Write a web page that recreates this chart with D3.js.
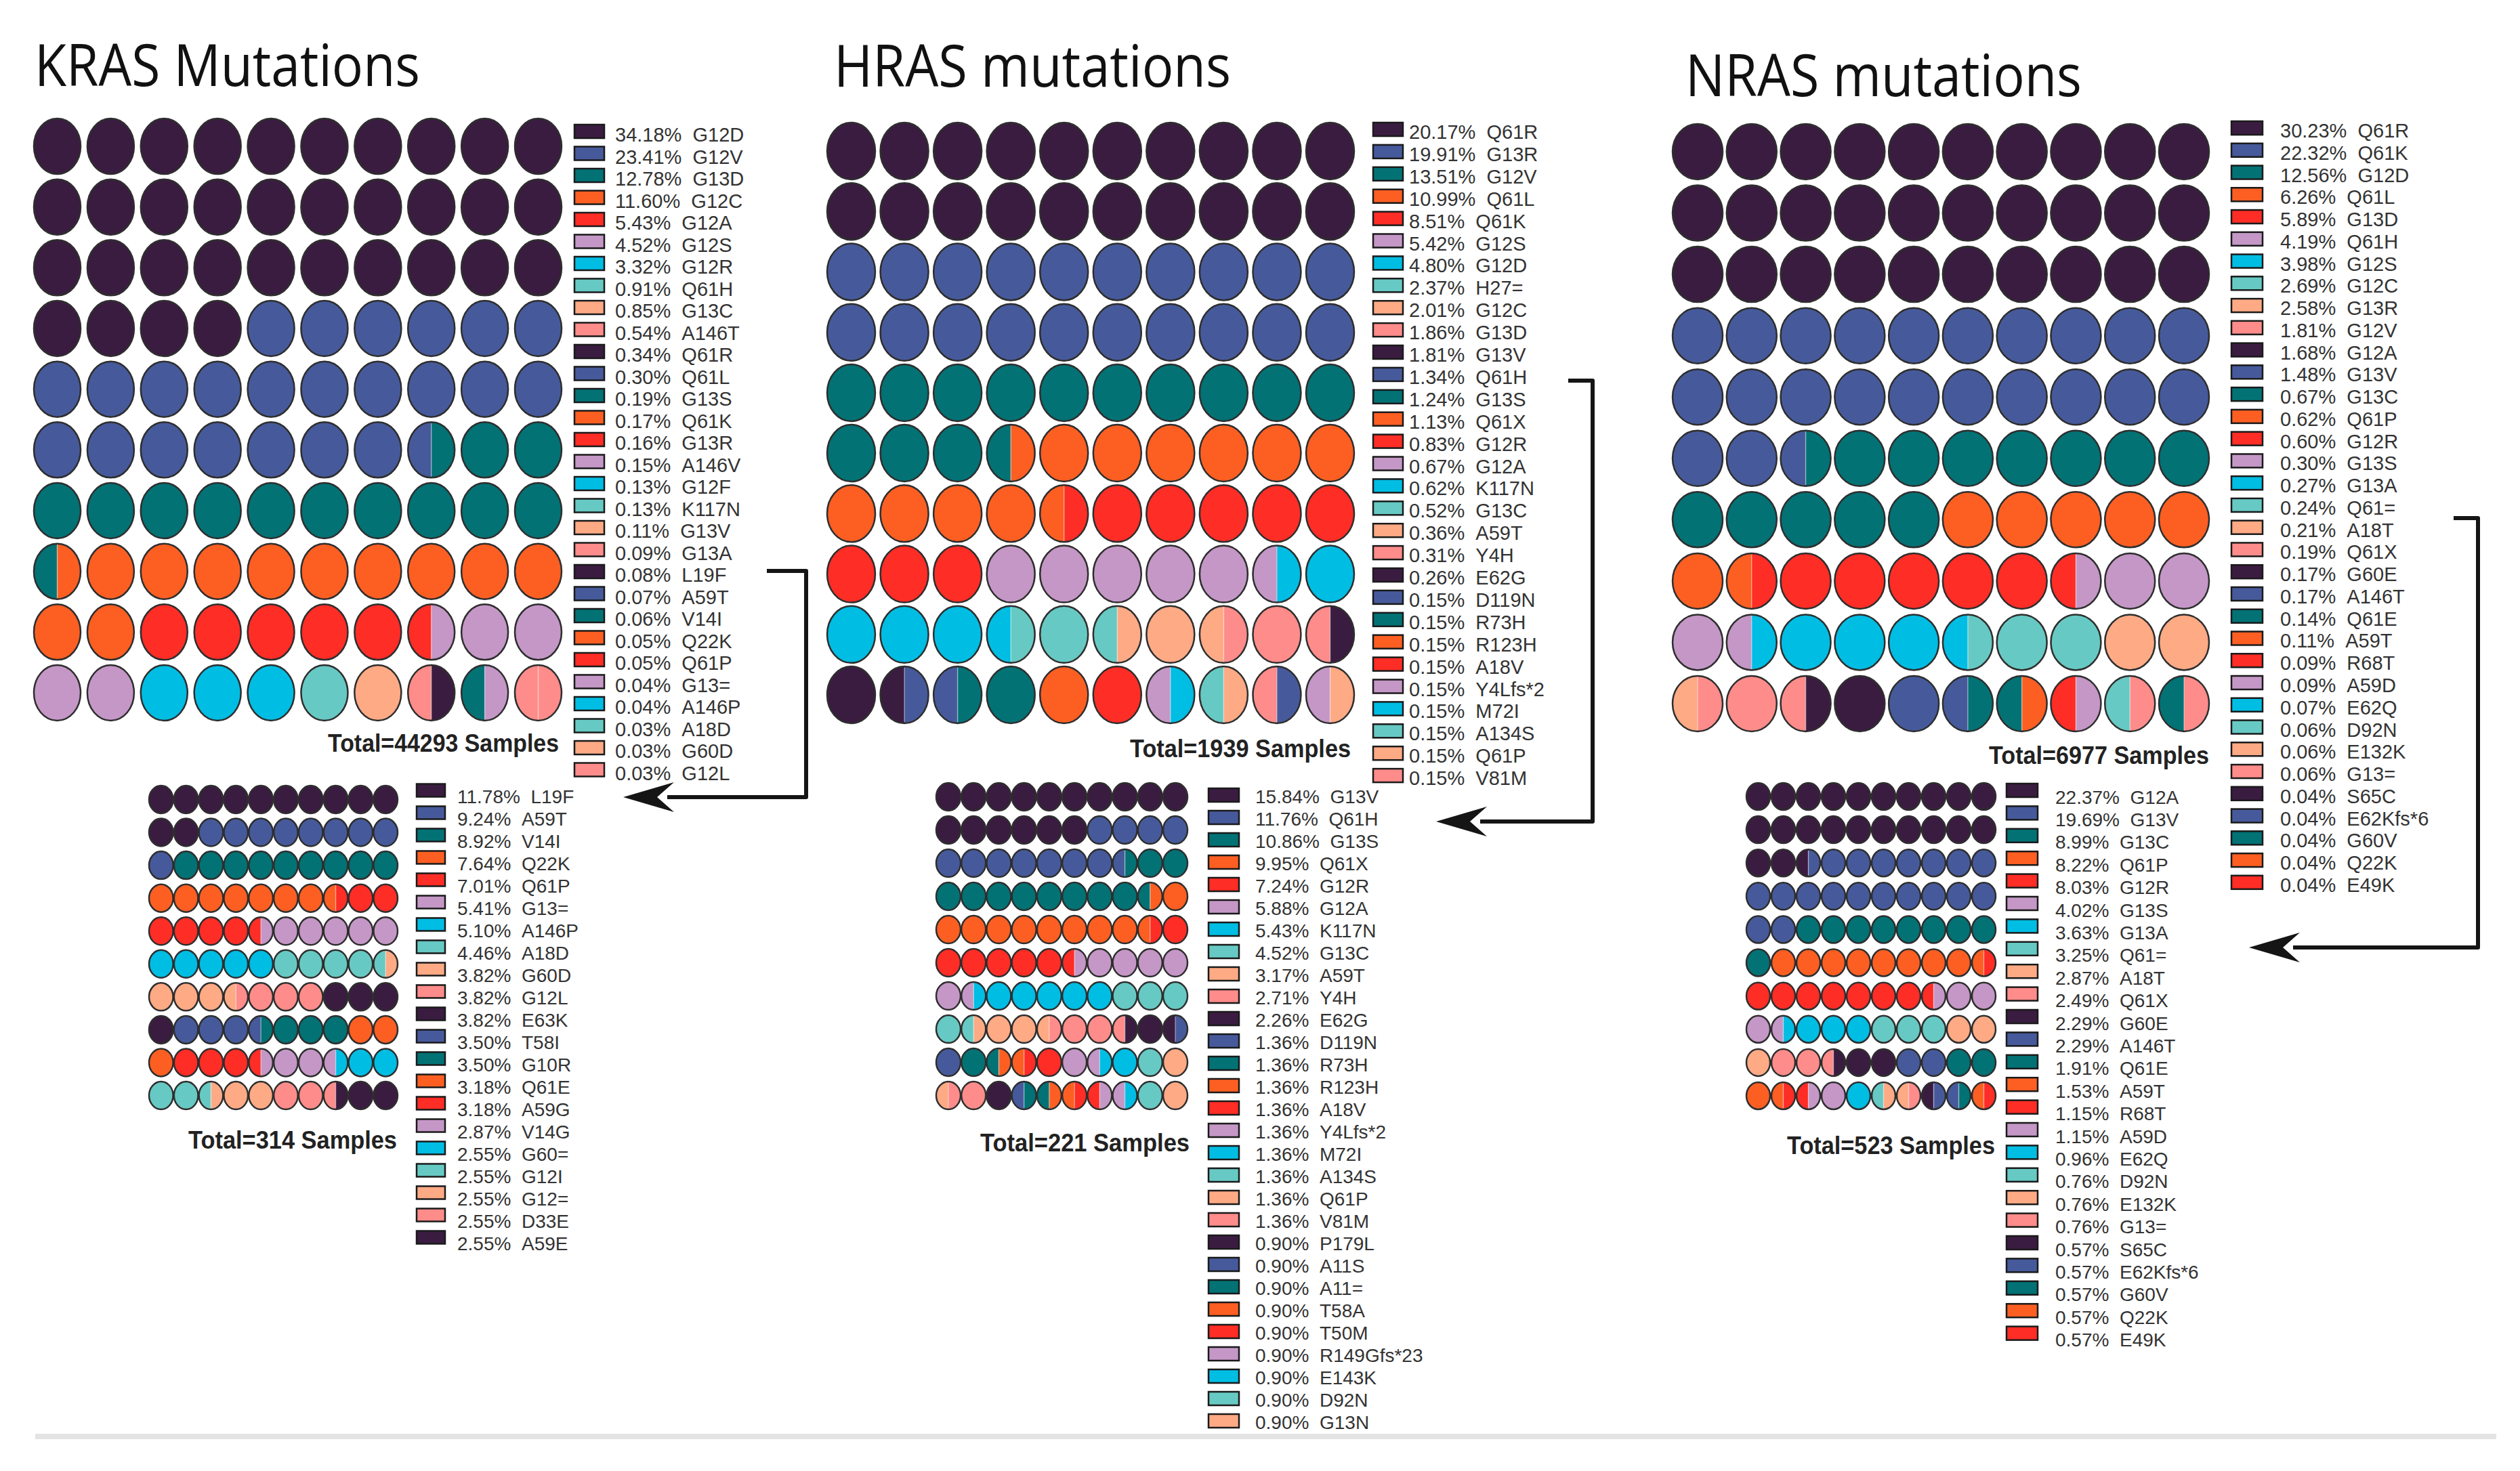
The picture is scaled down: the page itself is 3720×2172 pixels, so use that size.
<!DOCTYPE html>
<html lang="en">
<head>
<meta charset="UTF-8">
<title>RAS mutation waffles</title>
<script src="https://cdn.jsdelivr.net/npm/d3@7"></script>
<style>
  body { margin: 0; background: #fff; }
  svg { display: block; }
  .legend text { font-family: "Liberation Sans", Arial, sans-serif; fill: #333; }
  .title { font-family: "Open Sans", "Noto Sans", sans-serif; fill: #111; }
  .total { font-family: "Liberation Sans Narrow", "Liberation Sans", Arial, sans-serif; font-weight: bold; fill: #222; }
</style>
</head>
<body>
<svg id="chart"></svg>
<script>
// colour cycle used by every legend (item i gets colour i % 10)
const palette = ["#3b1c41", "#465a9b", "#027275", "#fd5f22", "#fe2d26",
                 "#c497c6", "#00bde3", "#67c9c3", "#fdaa85", "#fe8c8a"];

// ---- KRAS, all samples ----
const krasLabels = ["G12D","G12V","G13D","G12C","G12A","G12S","G12R","Q61H","G13C","A146T",
  "Q61R","Q61L","G13S","Q61K","G13R","A146V","G12F","K117N","G13V","G13A",
  "L19F","A59T","V14I","Q22K","Q61P","G13=","A146P","A18D","G60D","G12L"];
const krasPct = [34.18,23.41,12.78,11.60,5.43,4.52,3.32,0.91,0.85,0.54,
  0.34,0.30,0.19,0.17,0.16,0.15,0.13,0.13,0.11,0.09,
  0.08,0.07,0.06,0.05,0.05,0.04,0.04,0.03,0.03,0.03];
// waffle cells as colour codes, "a/b" = cell split in two halves
const krasCells = [
  "0 0 0 0 0 0 0 0 0 0", "0 0 0 0 0 0 0 0 0 0", "0 0 0 0 0 0 0 0 0 0",
  "0 0 0 0 1 1 1 1 1 1", "1 1 1 1 1 1 1 1 1 1", "1 1 1 1 1 1 1 1/2 2 2",
  "2 2 2 2 2 2 2 2 2 2", "2/3 3 3 3 3 3 3 3 3 3", "3 3 4 4 4 4 4 4/5 5 5",
  "5 5 6 6 6 7 8 9/0 2/5 9/9"];

// ---- KRAS, rare mutations ----
const krasRareLabels = ["L19F","A59T","V14I","Q22K","Q61P","G13=","A146P","A18D","G60D","G12L",
  "E63K","T58I","G10R","Q61E","A59G","V14G","G60=","G12I","G12=","D33E","A59E"];
const krasRarePct = [11.78,9.24,8.92,7.64,7.01,5.41,5.10,4.46,3.82,3.82,
  3.82,3.50,3.50,3.18,3.18,2.87,2.55,2.55,2.55,2.55,2.55];
const krasRareCells = [
  "0 0 0 0 0 0 0 0 0 0", "0 0 1 1 1 1 1 1 1 1", "1 2 2 2 2 2 2 2 2 2",
  "3 3 3 3 3 3 3 3/4 4 4", "4 4 4 4 4/5 5 5 5 5 5", "6 6 6 6 6 7 7 7 7 7/8",
  "8 8 8 8/9 9 9 9 0 0 0", "0 1 1 1 1/2 2 2 2 3 3", "3 4 4 4 4/5 5 5 5/6 6 6",
  "7 7 7/8 8 8 9 9 9/0 0 0"];

// ---- HRAS, all samples ----
const hrasLabels = ["Q61R","G13R","G12V","Q61L","Q61K","G12S","G12D","H27=","G12C","G13D",
  "G13V","Q61H","G13S","Q61X","G12R","G12A","K117N","G13C","A59T","Y4H",
  "E62G","D119N","R73H","R123H","A18V","Y4Lfs*2","M72I","A134S","Q61P","V81M"];
const hrasPct = [20.17,19.91,13.51,10.99,8.51,5.42,4.80,2.37,2.01,1.86,
  1.81,1.34,1.24,1.13,0.83,0.67,0.62,0.52,0.36,0.31,
  0.26,0.15,0.15,0.15,0.15,0.15,0.15,0.15,0.15,0.15];
const hrasCells = [
  "0 0 0 0 0 0 0 0 0 0", "0 0 0 0 0 0 0 0 0 0", "1 1 1 1 1 1 1 1 1 1",
  "1 1 1 1 1 1 1 1 1 1", "2 2 2 2 2 2 2 2 2 2", "2 2 2 2/3 3 3 3 3 3 3",
  "3 3 3 3 3/4 4 4 4 4 4", "4 4 4 5 5 5 5 5 5/6 6", "6 6 6 6/7 7 7/8 8 8/9 9 9/0",
  "0 0/1 1/2 2 3 4 5/6 7/8 9/1 5/8"];

// ---- HRAS, rare mutations ----
const hrasRareLabels = ["G13V","Q61H","G13S","Q61X","G12R","G12A","K117N","G13C","A59T","Y4H",
  "E62G","D119N","R73H","R123H","A18V","Y4Lfs*2","M72I","A134S","Q61P","V81M",
  "P179L","A11S","A11=","T58A","T50M","R149Gfs*23","E143K","D92N","G13N"];
const hrasRarePct = [15.84,11.76,10.86,9.95,7.24,5.88,5.43,4.52,3.17,2.71,
  2.26,1.36,1.36,1.36,1.36,1.36,1.36,1.36,1.36,1.36,
  0.90,0.90,0.90,0.90,0.90,0.90,0.90,0.90,0.90];
const hrasRareCells = [
  "0 0 0 0 0 0 0 0 0 0", "0 0 0 0 0 0 1 1 1 1", "1 1 1 1 1 1 1 1/2 2 2",
  "2 2 2 2 2 2 2 2 2/3 3", "3 3 3 3 3 3 3 3 3/4 4", "4 4 4 4 4 4/5 5 5 5 5",
  "5 5/6 6 6 6 6 6 7 7 7", "7 7/8 8 8 8/9 9 9 9/0 0 0/1", "1 2 2/3 3/4 4 5 5/6 6 7 8",
  "8/9 9 0 1/2 2/3 3/4 4/5 5/6 7 8"];

// ---- NRAS, all samples ----
const nrasLabels = ["Q61R","Q61K","G12D","Q61L","G13D","Q61H","G12S","G12C","G13R","G12V",
  "G12A","G13V","G13C","Q61P","G12R","G13S","G13A","Q61=","A18T","Q61X",
  "G60E","A146T","Q61E","A59T","R68T","A59D","E62Q","D92N","E132K","G13=",
  "S65C","E62Kfs*6","G60V","Q22K","E49K"];
const nrasPct = [30.23,22.32,12.56,6.26,5.89,4.19,3.98,2.69,2.58,1.81,
  1.68,1.48,0.67,0.62,0.60,0.30,0.27,0.24,0.21,0.19,
  0.17,0.17,0.14,0.11,0.09,0.09,0.07,0.06,0.06,0.06,
  0.04,0.04,0.04,0.04,0.04];
const nrasCells = [
  "0 0 0 0 0 0 0 0 0 0", "0 0 0 0 0 0 0 0 0 0", "0 0 0 0 0 0 0 0 0 0",
  "1 1 1 1 1 1 1 1 1 1", "1 1 1 1 1 1 1 1 1 1", "1 1 1/2 2 2 2 2 2 2 2",
  "2 2 2 2 2 3 3 3 3 3", "3 3/4 4 4 4 4 4 4/5 5 5", "5 5/6 6 6 6 6/7 7 7 8 8",
  "8/9 9 9/0 0 1 1/2 2/3 4/5 7/9 2/9"];

// ---- NRAS, rare mutations ----
const nrasRareLabels = ["G12A","G13V","G13C","Q61P","G12R","G13S","G13A","Q61=","A18T","Q61X",
  "G60E","A146T","Q61E","A59T","R68T","A59D","E62Q","D92N","E132K","G13=",
  "S65C","E62Kfs*6","G60V","Q22K","E49K"];
const nrasRarePct = [22.37,19.69,8.99,8.22,8.03,4.02,3.63,3.25,2.87,2.49,
  2.29,2.29,1.91,1.53,1.15,1.15,0.96,0.76,0.76,0.76,
  0.57,0.57,0.57,0.57,0.57];
const nrasRareCells = [
  "0 0 0 0 0 0 0 0 0 0", "0 0 0 0 0 0 0 0 0 0", "0 0 0/1 1 1 1 1 1 1 1",
  "1 1 1 1 1 1 1 1 1 1", "1 1 2 2 2 2 2 2 2 2", "2 3 3 3 3 3 3 3 3 3/4",
  "4 4 4 4 4 4 4 4/5 5 5", "5 5/6 6 6 6 7 7 7 8 8", "8 9 9 9/0 0 0 1 1 2 2",
  "3 3/4 4/5 5 6 7/8 8/9 0/1 1/2 3/4"];

const titles = ["KRAS Mutations", "HRAS mutations", "NRAS mutations"];
const totals = ["Total=44293 Samples", "Total=314 Samples", "Total=1939 Samples",
                "Total=221 Samples", "Total=6977 Samples", "Total=523 Samples"];

const W = 3720, H = 2172;
const svg = d3.select("#chart").attr("width", W).attr("height", H);
svg.append("rect").attr("width", W).attr("height", H).attr("fill", "#fff");

const color = d3.scaleOrdinal().domain(d3.range(10)).range(palette);
const halfArc = d3.arc().innerRadius(0).outerRadius(1);

// layout of the six panels (grid box, circle size, legend placement, total label)
const panels = [
  { labels: krasLabels, pct: krasPct, cells: krasCells, total: totals[0],
    gx: [50, 829], gy: [175, 1064], cw: 69, ch: 82,
    sx: 848, sw: 44, sh: 20, ly: 194, lstep: 32.5, tx: 908, toff: 5, fs: 29,
    totR: 825, totY: 1110, totW: 341 },
  { labels: krasRareLabels, pct: krasRarePct, cells: krasRareCells, total: totals[1],
    gx: [220, 587], gy: [1160, 1638], cw: 35.6, ch: 41,
    sx: 615, sw: 42, sh: 19, ly: 1167, lstep: 33, tx: 675, toff: 9, fs: 28,
    totR: 586, totY: 1696, totW: 308 },
  { labels: hrasLabels, pct: hrasPct, cells: hrasCells, total: totals[2],
    gx: [1221, 1999], gy: [181, 1068], cw: 71, ch: 84,
    sx: 2027, sw: 44, sh: 20, ly: 191, lstep: 32.9, tx: 2080, toff: 4, fs: 29,
    totR: 1994, totY: 1118, totW: 326 },
  { labels: hrasRareLabels, pct: hrasRarePct, cells: hrasRareCells, total: totals[3],
    gx: [1382, 1753], gy: [1156, 1638], cw: 36, ch: 41,
    sx: 1784, sw: 45, sh: 20, ly: 1174, lstep: 33, tx: 1853, toff: 2, fs: 28,
    totR: 1756, totY: 1700, totW: 309 },
  { labels: nrasLabels, pct: nrasPct, cells: nrasCells, total: totals[4],
    gx: [2469, 3261], gy: [183, 1080], cw: 74, ch: 82,
    sx: 3294, sw: 46, sh: 20, ly: 189, lstep: 32.76, tx: 3366, toff: 4, fs: 29,
    totR: 3261, totY: 1128, totW: 325 },
  { labels: nrasRareLabels, pct: nrasRarePct, cells: nrasRareCells, total: totals[5],
    gx: [2578, 2946], gy: [1156, 1638], cw: 35, ch: 40,
    sx: 2962, sw: 46, sh: 20, ly: 1167, lstep: 33.4, tx: 3034, toff: 10, fs: 28,
    totR: 2945, totY: 1704, totW: 307 }
];

function band(range, size) {
  const step = (range[1] - range[0] - size) / 9;
  return d3.scaleBand().domain(d3.range(10)).range(range).paddingInner(1 - size / step);
}

panels.forEach(p => {
  const g = svg.append("g");
  const x = band(p.gx, p.cw), y = band(p.gy, p.ch);
  const rx = x.bandwidth() / 2, ry = y.bandwidth() / 2;

  const cellData = [];
  p.cells.forEach((row, r) => row.split(" ").forEach((c, col) => {
    cellData.push({ r, col, parts: c.split("/").map(Number) });
  }));

  const cell = g.selectAll("g.cell").data(cellData).join("g")
    .attr("class", "cell")
    .attr("transform", d => `translate(${x(d.col) + rx},${y(d.r) + ry})`);

  // whole cells
  cell.filter(d => d.parts.length === 1).append("ellipse")
    .attr("rx", rx).attr("ry", ry)
    .attr("fill", d => color(d.parts[0]));

  // split cells: left half / right half
  const split = cell.filter(d => d.parts.length > 1);
  split.selectAll("path.half")
    .data(d => [{ a0: Math.PI, a1: 2 * Math.PI, c: d.parts[0] },
                { a0: 0, a1: Math.PI, c: d.parts[1] }])
    .join("path")
    .attr("class", "half")
    .attr("transform", `scale(${rx},${ry})`)
    .attr("d", d => halfArc({ startAngle: d.a0, endAngle: d.a1 }))
    .attr("fill", d => color(d.c));
  split.append("line")
    .attr("y1", -ry + 2).attr("y2", ry - 2)
    .attr("stroke", "#fff").attr("stroke-opacity", 0.4).attr("stroke-width", 1.5);

  cell.append("ellipse")
    .attr("rx", rx).attr("ry", ry)
    .attr("fill", "none").attr("stroke", "#2e2e2e").attr("stroke-width", 2.5);

  // legend
  const items = p.labels.map((name, i) => ({ name, v: p.pct[i], i }));
  const ly = d3.scaleLinear().domain([0, 1]).range([p.ly, p.ly + p.lstep]);
  const leg = g.append("g").attr("class", "legend");
  leg.selectAll("rect").data(items).join("rect")
    .attr("x", p.sx).attr("y", d => ly(d.i) - p.sh / 2)
    .attr("width", p.sw).attr("height", p.sh)
    .attr("fill", d => color(d.i % 10))
    .attr("stroke", "#1a1a1a").attr("stroke-width", 2.5);
  leg.selectAll("text").data(items).join("text")
    .attr("x", p.tx).attr("y", d => ly(d.i) + p.toff)
    .attr("dominant-baseline", "central")
    .style("font-size", p.fs + "px")
    .text(d => d.v.toFixed(2) + "%\u00a0\u00a0" + d.name);

  g.append("text").attr("class", "total")
    .attr("x", p.totR).attr("y", p.totY)
    .attr("text-anchor", "end")
    .attr("textLength", p.totW).attr("lengthAdjust", "spacingAndGlyphs")
    .style("font-size", "37px")
    .text(p.total);
});

// panel titles
const titlePos = [[51, 127, 569], [1231, 128, 586], [2488, 142, 585]];
svg.selectAll("text.title").data(titles).join("text")
  .attr("class", "title")
  .attr("x", (d, i) => titlePos[i][0]).attr("y", (d, i) => titlePos[i][1])
  .attr("textLength", (d, i) => titlePos[i][2]).attr("lengthAdjust", "spacingAndGlyphs")
  .style("font-size", "86px")
  .text(d => d);

// connector arrows from the legend to the rare-mutation panels
const arrows = [
  { line: [[1132, 843], [1190, 843], [1190, 1177], [985, 1177]], tip: [920, 1177] },
  { line: [[2315, 562], [2351, 562], [2351, 1213], [2185, 1213]], tip: [2120, 1213] },
  { line: [[3622, 765], [3658, 765], [3658, 1399], [3385, 1399]], tip: [3320, 1399] }
];
const lineGen = d3.line();
arrows.forEach(a => {
  svg.append("path").attr("d", lineGen(a.line))
    .attr("fill", "none").attr("stroke", "#151515").attr("stroke-width", 6)
    .attr("stroke-linejoin", "round");
  const [tx, ty] = a.tip;
  svg.append("path")
    .attr("d", `M${tx},${ty} L${tx + 75},${ty - 22} L${tx + 50},${ty} L${tx + 75},${ty + 22} Z`)
    .attr("fill", "#151515");
});

// light rule along the bottom
svg.append("rect").attr("x", 52).attr("y", 2117).attr("width", 3633).attr("height", 8)
  .attr("fill", "#e4e4e4");
</script>
</body>
</html>
